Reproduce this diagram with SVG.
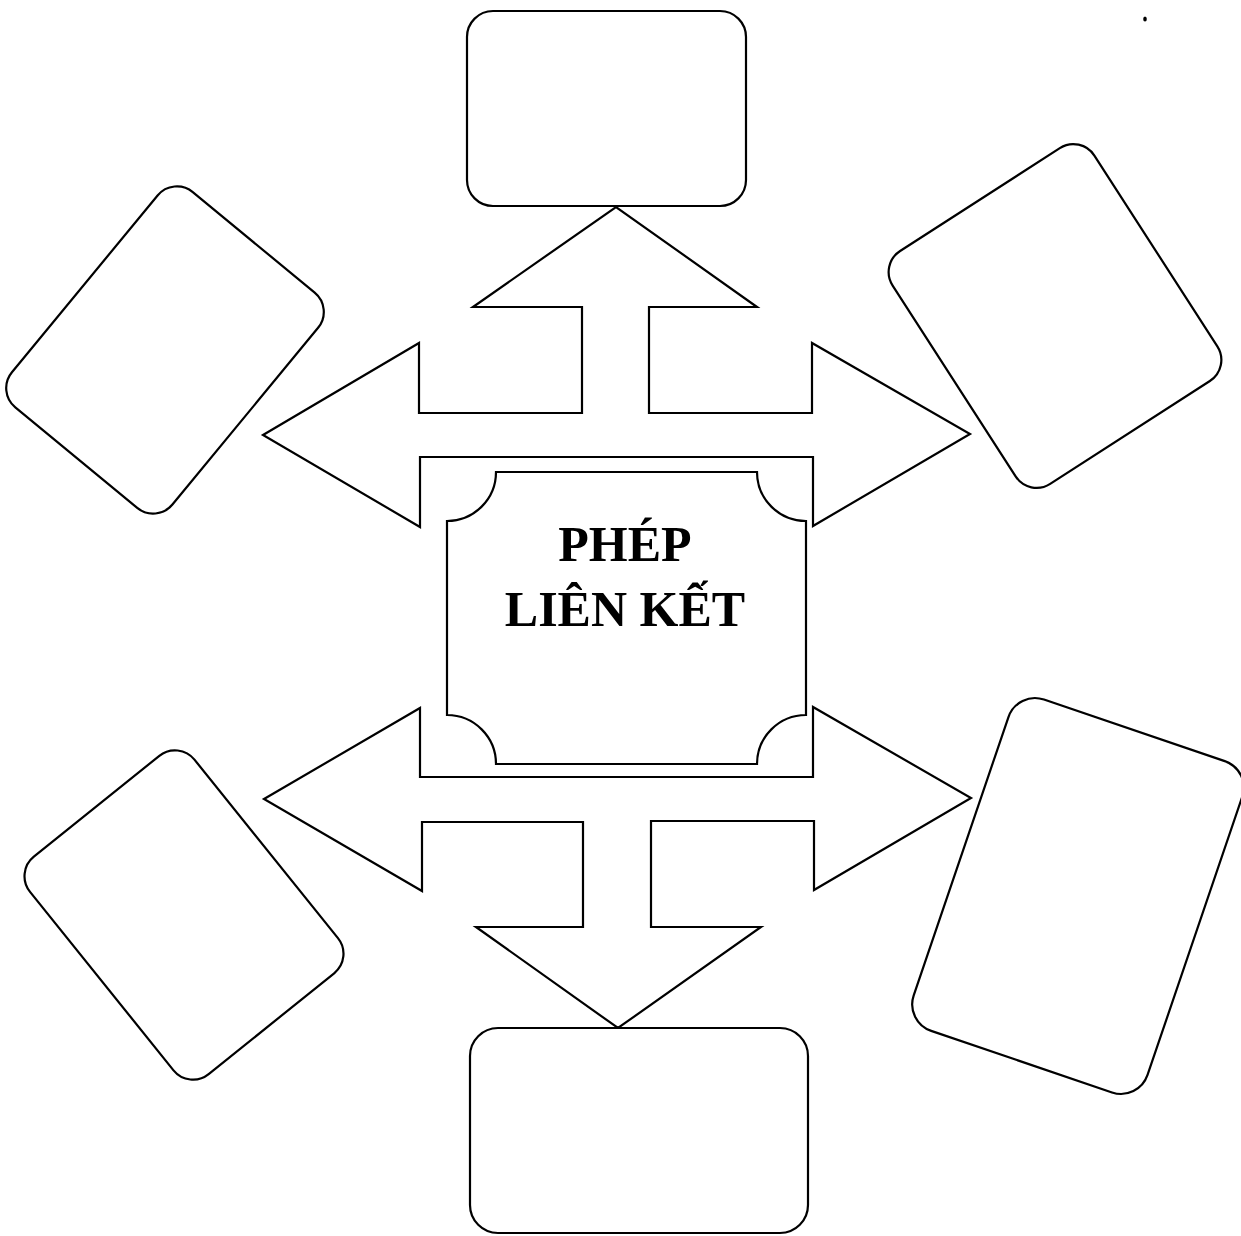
<svg xmlns="http://www.w3.org/2000/svg" width="1241" height="1236" viewBox="0 0 1241 1236">
<style>
.ln{fill:#fff;stroke:#000;stroke-width:2.2;stroke-linejoin:miter}
.box{fill:#fff;stroke:#000;stroke-width:2.2}
.t{font-family:"Liberation Serif","Times New Roman",serif;font-weight:bold;font-size:50px;fill:#000;text-anchor:middle}
</style>
<rect width="1241" height="1236" fill="#fff"/>
<g id="connectors">
<polygon class="ln" points="263,435 419,343 419,413 582,413 582,307 473,307 616,207 757,307 649,307 649,413 812,413 812,343 970,434 813,526 813,457 420,457 420,527"/>
<polygon class="ln" points="264,799 420,708 420,777 813,777 813,707 971,798 814,890 814,821 651,821 651,927 761,927 618,1028 476,927 583,927 583,822 422,822 422,891"/>
</g>
<g id="center">
<path class="ln" d="M496,472 H757 A49,49 0 0 0 806,521 V715 A49,49 0 0 0 757,764 H496 A49,49 0 0 0 447,715 V521 A49,49 0 0 0 496,472 Z"/>
<text class="t" x="625" y="561">PHÉP</text>
<text class="t" x="625" y="626">LIÊN KẾT</text>
</g>
<g id="box-top"><rect class="box" x="467" y="11" width="279" height="195" rx="26"/></g>
<g id="box-bottom"><rect class="box" x="470" y="1028" width="338" height="205" rx="28"/></g>
<g id="box-upper-left"><rect class="box" x="-104" y="-139.5" width="208" height="279" rx="25" transform="translate(165,350) rotate(39.5)"/></g>
<g id="box-upper-right"><rect class="box" x="-120" y="-138.5" width="240" height="277" rx="25" transform="translate(1055,316) rotate(-32.8)"/></g>
<g id="box-lower-left"><rect class="box" x="-105.5" y="-139.5" width="211" height="279" rx="25" transform="translate(184,915) rotate(-38.8)"/></g>
<g id="box-lower-right"><rect class="box" x="-123.5" y="-175" width="247" height="350" rx="28" transform="translate(1078,896) rotate(18.8)"/></g>
<ellipse cx="1145" cy="19" rx="1.8" ry="2.6" fill="#000"/>
</svg>
